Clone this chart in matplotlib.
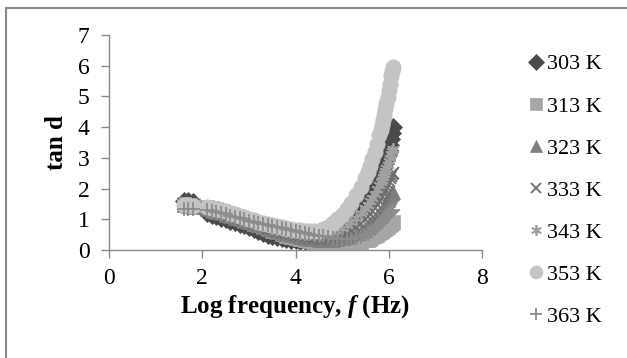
import matplotlib
matplotlib.use("Agg")
import matplotlib.pyplot as plt
from matplotlib.patches import Rectangle

plt.rcParams['font.family'] = ['Liberation Serif', 'DejaVu Serif']
plt.rcParams['mathtext.fontset'] = 'custom'
plt.rcParams['mathtext.it'] = 'Liberation Serif:italic:bold'
plt.rcParams['mathtext.rm'] = 'Liberation Serif:bold'

log_f = [1.6, 1.7, 1.8, 2.1, 2.2, 2.3, 2.4, 2.5, 2.6, 2.7, 2.8, 2.9, 3.0, 3.1, 3.2, 3.3,
         3.4, 3.5, 3.6, 3.7, 3.8, 3.9, 4.0, 4.1, 4.2, 4.3, 4.4, 4.5, 4.6, 4.7, 4.8, 4.9,
         5.0, 5.1, 5.2, 5.3, 5.4, 5.5, 5.55, 5.6, 5.65, 5.7, 5.75,
         5.8, 5.825, 5.85, 5.875, 5.9, 5.925, 5.95, 5.975, 6.0, 6.025, 6.05, 6.075, 6.1]

tan_303 = [1.6, 1.58, 1.55, 1.2, 1.15, 1.1, 1.05, 1.0, 0.95, 0.9, 0.85, 0.8, 0.74, 0.68, 0.62, 0.56,
           0.5, 0.46, 0.42, 0.39, 0.36, 0.34, 0.32, 0.3, 0.29, 0.28, 0.28, 0.3, 0.34, 0.4, 0.48, 0.58,
           0.7, 0.83, 0.98, 1.14, 1.32, 1.52, 1.63, 1.75, 1.88, 2.02, 2.17,
           2.33, 2.41, 2.5, 2.6, 2.7, 2.82, 2.95, 3.1, 3.25, 3.42, 3.6, 3.8, 4.0]
tan_313 = [1.5, 1.48, 1.45, 1.4, 1.36, 1.32, 1.27, 1.22, 1.16, 1.1, 1.04, 0.98, 0.92, 0.86, 0.8, 0.74,
           0.68, 0.62, 0.57, 0.52, 0.47, 0.43, 0.39, 0.35, 0.32, 0.29, 0.27, 0.25, 0.23, 0.22, 0.21, 0.2,
           0.2, 0.21, 0.22, 0.24, 0.27, 0.31, 0.34, 0.37, 0.41, 0.45, 0.5,
           0.55, 0.58, 0.61, 0.64, 0.67, 0.7, 0.73, 0.76, 0.8, 0.83, 0.86, 0.88, 0.9]
tan_323 = [1.45, 1.43, 1.4, 1.32, 1.28, 1.24, 1.2, 1.15, 1.1, 1.05, 1.0, 0.95, 0.9, 0.85, 0.8, 0.75,
           0.7, 0.65, 0.6, 0.56, 0.52, 0.48, 0.45, 0.42, 0.39, 0.37, 0.35, 0.34, 0.33, 0.33, 0.34, 0.36,
           0.39, 0.43, 0.48, 0.54, 0.62, 0.72, 0.78, 0.85, 0.93, 1.01, 1.1,
           1.2, 1.25, 1.31, 1.37, 1.43, 1.5, 1.56, 1.63, 1.7, 1.76, 1.82, 1.86, 1.9]
tan_333 = [1.5, 1.5, 1.48, 1.38, 1.34, 1.3, 1.25, 1.2, 1.15, 1.1, 1.04, 0.98, 0.93, 0.88, 0.83, 0.78,
           0.73, 0.68, 0.63, 0.59, 0.55, 0.51, 0.48, 0.45, 0.42, 0.4, 0.38, 0.37, 0.37, 0.38, 0.4, 0.44,
           0.49, 0.56, 0.64, 0.74, 0.86, 1.0, 1.08, 1.17, 1.27, 1.38, 1.5,
           1.63, 1.7, 1.77, 1.84, 1.92, 2.0, 2.08, 2.16, 2.25, 2.33, 2.4, 2.46, 2.5]
tan_343 = [1.42, 1.4, 1.38, 1.3, 1.27, 1.23, 1.19, 1.15, 1.1, 1.06, 1.01, 0.97, 0.93, 0.89, 0.85, 0.81,
           0.77, 0.73, 0.7, 0.66, 0.63, 0.6, 0.57, 0.55, 0.53, 0.51, 0.5, 0.5, 0.51, 0.53, 0.57, 0.63,
           0.71, 0.8, 0.91, 1.04, 1.19, 1.37, 1.47, 1.58, 1.7, 1.83, 1.97,
           2.12, 2.2, 2.29, 2.38, 2.47, 2.57, 2.67, 2.78, 2.9, 3.01, 3.12, 3.22, 3.3]
tan_353 = [1.45, 1.45, 1.42, 1.4, 1.37, 1.34, 1.3, 1.26, 1.22, 1.17, 1.12, 1.07, 1.02, 0.97, 0.92, 0.88,
           0.84, 0.8, 0.77, 0.74, 0.71, 0.68, 0.66, 0.64, 0.62, 0.61, 0.61, 0.63, 0.68, 0.76, 0.87, 1.0,
           1.15, 1.33, 1.54, 1.78, 2.05, 2.36, 2.54, 2.74, 2.96, 3.2, 3.46,
           3.75, 3.9, 4.06, 4.23, 4.4, 4.58, 4.77, 4.98, 5.2, 5.42, 5.65, 5.82, 5.95]
tan_363 = [1.35, 1.35, 1.35, 1.3, 1.27, 1.24, 1.2, 1.16, 1.12, 1.08, 1.04, 1.0, 0.96, 0.92, 0.88, 0.84,
           0.8, 0.77, 0.74, 0.71, 0.68, 0.65, 0.62, 0.59, 0.56, 0.53, 0.5, 0.47, 0.44, 0.41, 0.38, 0.36,
           0.35, 0.35, 0.36, 0.39, 0.43, 0.49, 0.53, 0.58, 0.63, 0.69, 0.76,
           0.83, 0.87, 0.91, 0.95, 1.0, 1.04, 1.09, 1.13, 1.18, 1.22, 1.25, 1.28, 1.3]

labels = ['303 K', '313 K', '323 K', '333 K', '343 K', '353 K', '363 K']
series = [tan_303, tan_313, tan_323, tan_333, tan_343, tan_353, tan_363]
markers = ['D', 's', '^', 'x', (6, 2, 0), 'o', '+']
colors = ['#4a4a4a', '#a6a6a6', '#7f7f7f', '#6e6e6e', '#a0a0a0', '#c4c4c4', '#8c8c8c']
sizes = [9.0, 9.5, 10.5, 9.0, 9.0, 11.0, 10.0]

W, H = 627, 358
fig = plt.figure(figsize=(W / 100, H / 100), dpi=100)
ax = fig.add_axes([109 / W, 1 - 250 / H, (482 - 109) / W, (250 - 35) / H])

handles = []
for y, lab, m, c, s in zip(series, labels, markers, colors, sizes):
    thin = m in ('x', '+') or isinstance(m, tuple)
    h, = ax.plot(log_f, y, linestyle='none', marker=m, color=c, markersize=s,
                 markeredgewidth=1.3 if thin else 0.5,
                 markeredgecolor=c, label=lab)
    handles.append(h)

ax.set_xlim(0, 8)
ax.set_ylim(0, 7)
ax.set_xticks([0, 2, 4, 6, 8])
ax.set_yticks(range(0, 8))
for s in ['top', 'right']:
    ax.spines[s].set_visible(False)
for s in ['left', 'bottom']:
    ax.spines[s].set_color('#8a8a8a')
    ax.spines[s].set_linewidth(1.0)
ax.tick_params(direction='out', length=6, width=1.0, color='#8a8a8a', labelsize=17)
ax.tick_params(axis='y', pad=8)
ax.tick_params(axis='x', pad=7)
ax.set_xlabel(r'Log frequency, $f$ (Hz)', fontsize=18, fontweight='bold', labelpad=3)
ax.set_ylabel('tan d', fontsize=18, fontweight='bold', labelpad=7)

leg = fig.legend(handles=handles, loc='upper left', bbox_to_anchor=(519 / W, 1 - 45 / H),
                 frameon=False, fontsize=16, handlelength=0.7, handletextpad=0.15,
                 labelspacing=0.97, borderaxespad=0, markerscale=0.85)

fig.patches.append(Rectangle((5.5 / W, -0.05), 1.1, 1 - 8 / H + 0.05, transform=fig.transFigure,
                             fill=False, edgecolor='#8a8a8a', linewidth=1.5))

fig.savefig('out.png', dpi=100)
